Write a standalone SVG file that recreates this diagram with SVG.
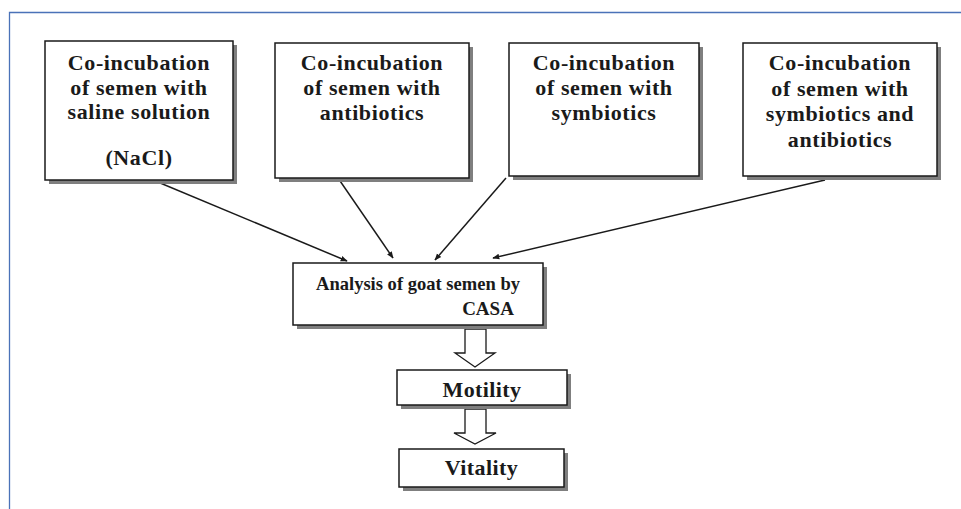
<svg xmlns="http://www.w3.org/2000/svg" width="961" height="509" viewBox="0 0 961 509">
<defs>
<style>
.box{fill:#fff;stroke:#1a1a1a;stroke-width:1.5}
.sh{fill:#7f7f7f}
.t{font-family:"Liberation Serif","Times New Roman",serif;font-weight:bold;fill:#1a1a1a;text-anchor:middle}
.top{font-size:22px;letter-spacing:0.6px}
.mid{font-size:19px}
.big{font-size:22px;letter-spacing:0.4px}
.ln{stroke:#1a1a1a;stroke-width:1.5;fill:none;marker-end:url(#ah)}
.blk{fill:#fff;stroke:#1a1a1a;stroke-width:1.3;stroke-linejoin:miter}
</style>
<marker id="ah" viewBox="0 0 10 10" refX="9" refY="5" markerWidth="7" markerHeight="7" orient="auto" markerUnits="userSpaceOnUse">
<path d="M0,1 L10,5 L0,9 z" fill="#1a1a1a"/>
</marker>
</defs>
<rect width="961" height="509" fill="#fff"/>
<path d="M9.5,509 L9.5,12.5 L961,12.5" fill="none" stroke="#4a72b8" stroke-width="1.3"/>

<g id="connectors">
<line class="ln" x1="153" y1="180" x2="347" y2="261"/>
<line class="ln" x1="338" y1="178" x2="393" y2="258"/>
<line class="ln" x1="506" y1="178" x2="435" y2="260"/>
<line class="ln" x1="825" y1="180" x2="493" y2="258"/>
<polygon class="blk" points="465,329 486,329 486,353 495,353 475,367 455,353 465,353"/>
<polygon class="blk" points="465,409 486,409 486,433 496,433 475,444 454,433 465,433"/>
</g>

<g id="n1">
<rect class="sh" x="49" y="45" width="188" height="139"/>
<rect class="box" x="45" y="41" width="188" height="139"/>
<text class="t top" x="139" y="69.5">Co-incubation</text>
<text class="t top" x="139" y="94.5">of semen with</text>
<text class="t top" x="139" y="119">saline solution</text>
<text class="t top" x="139" y="165">(NaCl)</text>
</g>
<g id="n2">
<rect class="sh" x="279" y="47" width="194" height="135"/>
<rect class="box" x="275" y="43" width="194" height="135"/>
<text class="t top" x="372" y="70">Co-incubation</text>
<text class="t top" x="372" y="95">of semen with</text>
<text class="t top" x="372" y="120">antibiotics</text>
</g>
<g id="n3">
<rect class="sh" x="513" y="47" width="190" height="133"/>
<rect class="box" x="509" y="43" width="190" height="133"/>
<text class="t top" x="604" y="70">Co-incubation</text>
<text class="t top" x="604" y="95">of semen with</text>
<text class="t top" x="604" y="120">symbiotics</text>
</g>
<g id="n4">
<rect class="sh" x="747" y="47" width="194" height="133"/>
<rect class="box" x="743" y="43" width="194" height="133"/>
<text class="t top" x="840" y="70">Co-incubation</text>
<text class="t top" x="840" y="95.5">of semen with</text>
<text class="t top" x="840" y="121">symbiotics and</text>
<text class="t top" x="840" y="146.5">antibiotics</text>
</g>
<g id="n5">
<rect class="sh" x="297" y="267" width="250" height="62"/>
<rect class="box" x="293" y="263" width="250" height="62"/>
<text class="t mid" x="418" y="290" textLength="204" lengthAdjust="spacingAndGlyphs">Analysis of goat semen by</text>
<text class="t mid" x="488" y="315">CASA</text>
</g>
<g id="n6">
<rect class="sh" x="401" y="374" width="170" height="35"/>
<rect class="box" x="397" y="370" width="170" height="35"/>
<text class="t big" x="482" y="397">Motility</text>
</g>
<g id="n7">
<rect class="sh" x="403" y="453" width="165" height="38"/>
<rect class="box" x="399" y="449" width="165" height="38"/>
<text class="t big" x="481.5" y="475">Vitality</text>
</g>
</svg>
